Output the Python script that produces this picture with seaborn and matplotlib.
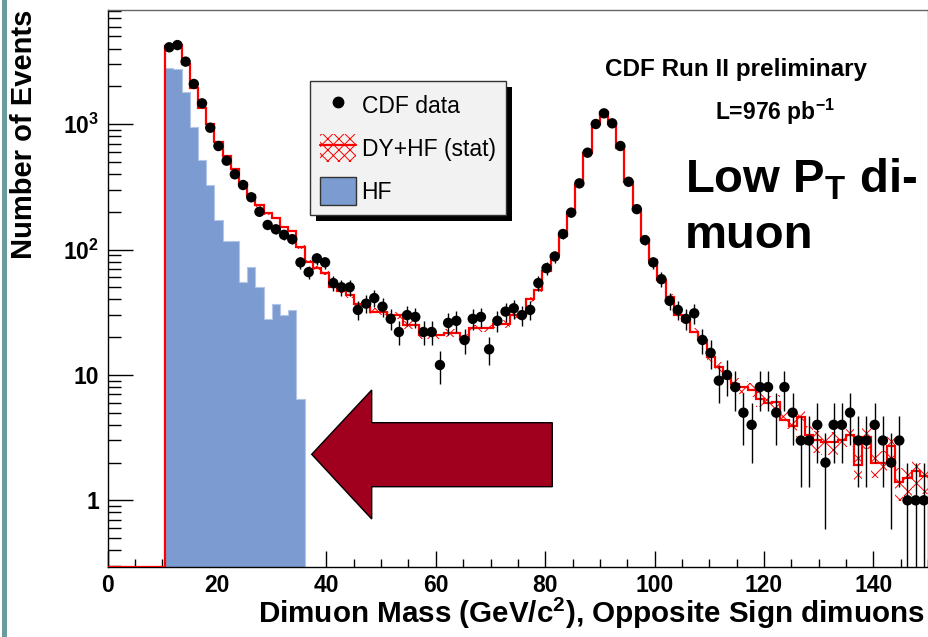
import numpy as np
import pandas as pd
import matplotlib
matplotlib.use("Agg")
import matplotlib.pyplot as plt
import seaborn as sns
from matplotlib.patches import Patch, Polygon, Rectangle
from matplotlib.lines import Line2D
from matplotlib.ticker import MultipleLocator, LogLocator, FixedLocator, FixedFormatter, NullFormatter
from matplotlib.transforms import IdentityTransform

# ---------------- data ----------------
bin_width = 1.5
x_range = (0.0, 150.0)
first_edge = 10.5            # first filled bin starts here

# CDF data, one value per 1.5 GeV bin from 10.5 to 150 GeV
data_counts = [4100, 4270, 3150, 2090, 1465, 936, 669, 511, 398, 327,
               261, 200, 157, 145, 131, 121, 79, 66, 85, 79,
               54, 50, 50, 33, 37, 41, 35, 28, 22, 30,
               29, 22, 22, 12, 26, 27, 19, 28, 29, 16,
               27, 32, 34, 30, 33, 54, 71, 88, 133, 197,
               337, 592, 1002, 1219, 1015, 669, 347, 210, 119, 79,
               58, 39, 33, 28, 31, 19, 15, 9, 10, 8,
               5, 4, 8, 8, 5, 8, 5, 3, 3, 4,
               2, 4, 4, 5, 3, 3, 4, 3, 2, 3,
               1, 1, 1]

# DY+HF expectation, same bins
mc_counts = [4200, 4300, 3000, 1950, 1350, 1000, 720, 560, 440, 340,
             270, 225, 195, 180, 150, 140, 105, 80, 71, 65,
             50, 47, 43, 37, 37, 32, 32, 30, 30, 25,
             25, 21, 21, 21, 21.5, 21.5, 19.5, 23.5, 23.5, 23.5,
             25.5, 25.5, 30, 30, 40, 48, 68, 90, 128, 195,
             330, 590, 1000, 1240, 1000, 650, 345, 205, 120, 82,
             57, 42, 30, 27, 22, 19, 14, 11.5, 9.5, 8.5,
             8, 7.6, 6.4, 6.0, 6.1, 4.4, 3.9, 4.6, 3.3, 3.0,
             2.9, 2.9, 3.0, 3.3, 1.9, 3.2, 2.0, 2.0, 2.7, 1.4,
             1.5, 1.7, 1.55]

# HF component, bins from 10.5 to 36 GeV
hf_counts = [2818, 2735, 1813, 953, 517, 327, 172, 117, 117, 55,
             73, 50, 28, 37, 30, 33, 6.4]

mc_rel_weight = 0.12          # MC stat: sigma = sqrt(weight * content)

# ---------------- derived arrays ----------------
edges = np.arange(x_range[0], x_range[1] + bin_width / 2, bin_width)
i0 = int(round(first_edge / bin_width))
data = np.array(data_counts, float)
mc = np.array(mc_counts, float)
hf = np.array(hf_counts, float)
centers = edges[i0:-1] + bin_width / 2
hf_centers = centers[:len(hf)]
hf_range = (float(edges[i0]), float(edges[i0 + len(hf)]))
mc_full = np.zeros(len(edges) - 1)
mc_full[i0:] = mc
mc_err = np.sqrt(mc_rel_weight * mc)
data_err = np.sqrt(data)

hf_df = pd.DataFrame({"mass": hf_centers, "events": hf})
data_df = pd.DataFrame({"mass": centers, "events": data})

ymin, ymax = 0.294, 8130

# ---------------- style ----------------
sns.set_theme(style="ticks")
plt.rcParams["font.family"] = ["Liberation Sans", "DejaVu Sans"]
plt.rcParams["mathtext.fontset"] = "custom"
plt.rcParams["mathtext.rm"] = "Liberation Sans"
plt.rcParams["mathtext.bf"] = "Liberation Sans:bold"
plt.rcParams["mathtext.it"] = "Liberation Sans:italic"
plt.rcParams["hatch.color"] = "red"
plt.rcParams["hatch.linewidth"] = 0.7
for k in ["text.color", "axes.labelcolor", "xtick.color", "ytick.color",
          "xtick.labelcolor", "ytick.labelcolor"]:
    plt.rcParams[k] = "black"

W, H = 929, 637
fig = plt.figure(figsize=(W / 100, H / 100), dpi=100, facecolor="white")
ax_l, ax_r, ax_t, ax_b = 107.7, 928.0, 10.0, 567.0
ax = fig.add_axes([ax_l / W, 1 - ax_b / H, (ax_r - ax_l) / W, (ax_b - ax_t) / H])
ax.set_facecolor("white")
ax.set_yscale("log")

hf_color = "#7b9bd1"
sns.histplot(data=hf_df, x="mass", weights="events", binwidth=bin_width, binrange=hf_range,
             element="step", fill=True, color=hf_color, edgecolor="#b3c5e8", linewidth=0.8,
             alpha=1.0, ax=ax, zorder=1)

# DY+HF stat band (hatched)
ax.stairs(mc + mc_err, edges[i0:], baseline=mc - mc_err, fill=True, facecolor="none",
          edgecolor="red", hatch="xx", linewidth=0, zorder=2)
# DY+HF line
ax.stairs(np.clip(mc_full, ymin, None), edges, color="red", linewidth=1.6, zorder=3,
          baseline=None)

# data
ax.errorbar(centers, data, yerr=[np.minimum(data_err, data), data_err], fmt="none",
            ecolor="black", elinewidth=1.0, capsize=0, zorder=4)
sns.scatterplot(data=data_df, x="mass", y="events", color="black", s=56, marker="o",
                edgecolor="none", ax=ax, zorder=5, legend=False)

ax.set_xlim(*x_range)
ax.set_ylim(ymin, ymax)

# ticks
ax.xaxis.set_major_locator(MultipleLocator(20))
ax.xaxis.set_minor_locator(MultipleLocator(5))
ax.yaxis.set_major_locator(FixedLocator([1, 10, 100, 1000]))
ax.yaxis.set_major_formatter(FixedFormatter(["1", "10", r"10$^{\mathbf{2}}$", r"10$^{\mathbf{3}}$"]))
ax.yaxis.set_minor_locator(LogLocator(base=10, subs=np.arange(2, 10)))
ax.yaxis.set_minor_formatter(NullFormatter())
ax.tick_params(axis="x", which="major", direction="in", length=11.5, width=1, labelsize=16.5,
               pad=5, colors="black", top=False)
ax.tick_params(axis="x", which="minor", direction="in", length=6, width=1, top=False)
ax.tick_params(axis="y", which="major", direction="in", length=18, width=1, labelsize=16.5,
               pad=6, colors="black", right=False)
ax.tick_params(axis="y", which="minor", direction="in", length=9, width=1, right=False)
for lab in ax.get_xticklabels() + ax.get_yticklabels():
    lab.set_fontweight("bold")
for s in ["left", "bottom"]:
    ax.spines[s].set_color("black")
    ax.spines[s].set_linewidth(1)
for s in ["top", "right"]:
    ax.spines[s].set_color("#666666")
    ax.spines[s].set_linewidth(1)
ax.grid(False)

# axis titles
ax.set_ylabel("Number of Events", fontsize=21, fontweight="bold", loc="top")
ax.yaxis.set_label_coords((38 - ax_l) / (ax_r - ax_l), 1.0)
ax.set_xlabel(r"Dimuon Mass (GeV/c$^{\mathbf{2}}$), Opposite Sign dimuons", fontsize=21.3,
              fontweight="bold", loc="right")
ax.xaxis.set_label_coords((925 - ax_l) / (ax_r - ax_l), -(596 - ax_b) / (ax_b - ax_t))

# legend
handles = [
    Line2D([], [], marker="o", color="black", linestyle="none", markersize=7.5),
    (Patch(facecolor="none", edgecolor="red", hatch="xxx", linewidth=0),
     Line2D([], [], color="red", linewidth=1.6)),
    Patch(facecolor=hf_color, edgecolor="#333333", linewidth=1),
]
labels = ["CDF data", "DY+HF (stat)", "HF"]
leg = ax.legend(handles, labels, loc="upper left", bbox_to_anchor=(310 / W, 1 - 81 / H),
                bbox_transform=fig.transFigure, borderaxespad=0, fontsize=16.5,
                frameon=True, fancybox=False, framealpha=1, facecolor="#f2f2f2",
                edgecolor="#333333", handlelength=1.55, handleheight=1.5,
                handletextpad=0.25, labelspacing=0.65, borderpad=0.45)
leg.get_frame().set_linewidth(1)
leg.set_zorder(20)

# texts
fig.text(605 / W, 1 - 76 / H, "CDF Run II preliminary", fontsize=17.5, fontweight="bold", va="baseline")
fig.text(715 / W, 1 - 120 / H, r"L=976 pb$^{\mathbf{-1}}$", fontsize=16.5, fontweight="bold", va="baseline")
fig.text(685 / W, 1 - 193 / H, r"Low P$_{\mathbf{T}}$ di-", fontsize=34, fontweight="bold", va="baseline")
fig.text(685 / W, 1 - 248 / H, "muon", fontsize=34, fontweight="bold", va="baseline")

# arrow
arrow_px = [(311.7, 454.3), (371.7, 390), (371.7, 422.7), (552.3, 422.7),
            (552.3, 486.7), (371.7, 486.7), (371.7, 519)]
fig.add_artist(Polygon([(x / W, 1 - y / H) for x, y in arrow_px], closed=True,
                       transform=fig.transFigure, facecolor="#a0001e", edgecolor="black",
                       linewidth=1, zorder=10))
# left border stripe
fig.add_artist(Rectangle((2 / W, 0), 5 / W, 1, transform=fig.transFigure,
                         facecolor="#6b9b9b", edgecolor="none", zorder=10))

# legend shadow
fig.canvas.draw()
bb = leg.get_window_extent(fig.canvas.get_renderer())
shadow = Rectangle((bb.x0 + 6, bb.y0 - 6), bb.width, bb.height, transform=IdentityTransform(),
                   facecolor="black", edgecolor="none", zorder=19, clip_on=False)
ax.add_artist(shadow)

fig.savefig("out.png", dpi=100, facecolor="white")
